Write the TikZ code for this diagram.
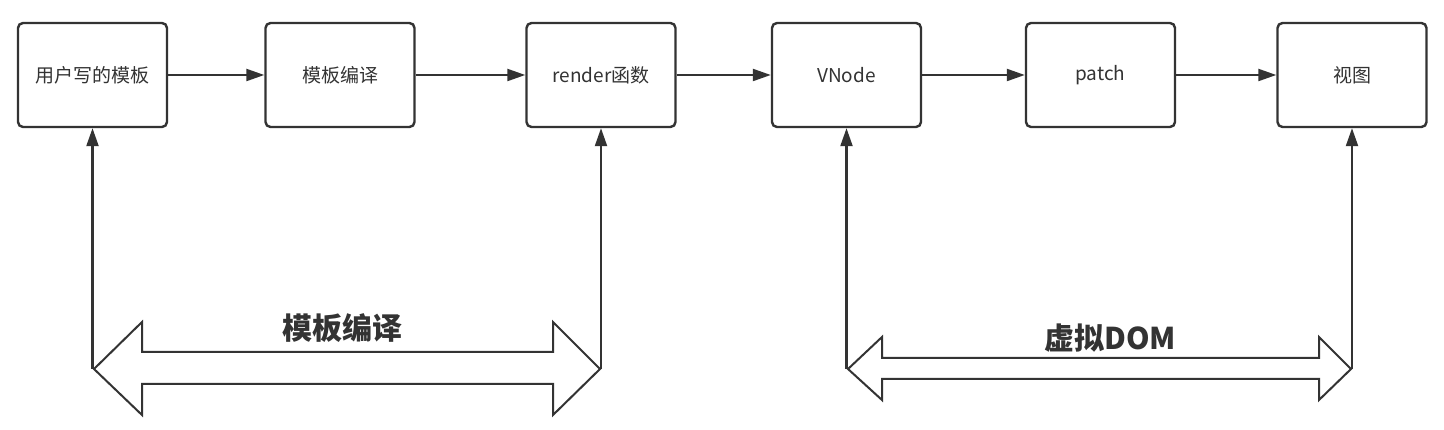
\documentclass[tikz,border=0pt]{standalone}
\usepackage{fontspec}
\setmainfont{Noto Sans CJK SC}
\usetikzlibrary{arrows.meta}
\definecolor{ink}{HTML}{333333}
\tikzset{
  stepbox/.style={draw=ink, line width=2.4pt, rounded corners=5pt, minimum width=149pt, minimum height=104pt, inner sep=0pt, text=ink, font=\fontsize{19}{21}\selectfont},
  flow/.style={draw=ink, line width=2.2pt, -{Triangle[length=18pt,width=12pt]}},
  bigarrow/.style={draw=ink, line width=2pt, fill=white, line join=miter},
  biglabel/.style={text=ink, font=\fontsize{30}{32}\selectfont\bfseries}
}
\begin{document}
\begin{tikzpicture}[x=1pt,y=-1pt]
\useasboundingbox (0,0) rectangle (1444,430);
\fill[white] (0,0) rectangle (1444,430);
% boxes
\node[stepbox] (a) at (92.5,75) {用户写的模板};
\node[stepbox] (b) at (340,75) {模板编译};
\node[stepbox] (c) at (601,75) {render函数};
\node[stepbox] (d) at (846.5,75) {VNode};
\node[stepbox] (e) at (1100.5,75) {patch};
\node[stepbox] (f) at (1352,75) {视图};
% horizontal flow
\draw[flow] (a) -- (b);
\draw[flow] (b) -- (c);
\draw[flow] (c) -- (d);
\draw[flow] (d) -- (e);
\draw[flow] (e) -- (f);
% double arrows
\draw[bigarrow] (94,369) -- (142,322) -- (142,352) -- (553,352) -- (553,322) -- (600,369)
  -- (553,415) -- (553,384) -- (142,384) -- (142,415) -- cycle;
\draw[bigarrow] (848,369) -- (882,337) -- (882,358) -- (1319,358) -- (1319,337) -- (1351,369)
  -- (1319,400) -- (1319,379) -- (882,379) -- (882,400) -- cycle;
\coordinate (t1) at (92.5,369);
\coordinate (t2) at (601,369);
\coordinate (t3) at (846.5,369);
\coordinate (t4) at (1352,369);
\draw[flow] (t1) -- (a);
\draw[flow] (t2) -- (c);
\draw[flow] (t3) -- (d);
\draw[flow] (t4) -- (f);
\node[biglabel] (l1) at (342,328) {模板编译};
\node[biglabel] (l2) at (1110,338) {虚拟DOM};
\end{tikzpicture}
\end{document}
